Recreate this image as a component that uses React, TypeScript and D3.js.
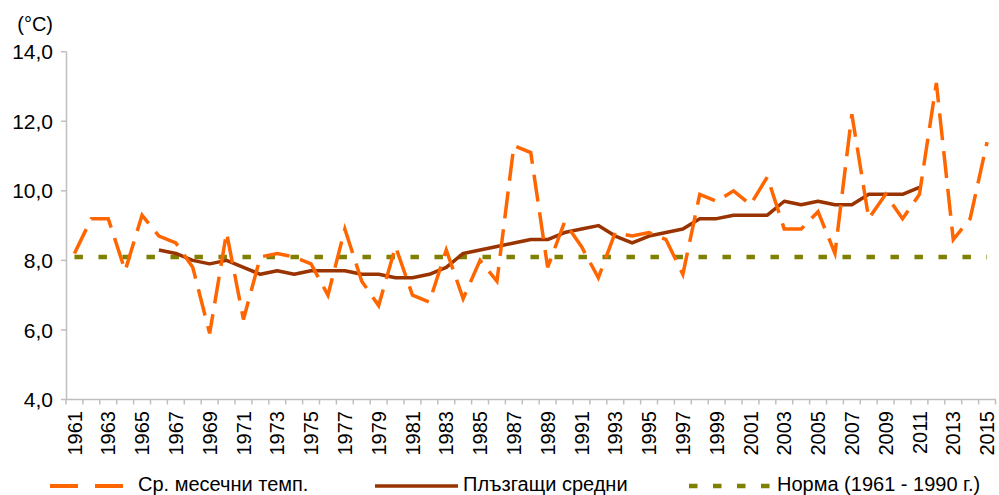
import * as d3 from "d3";

// categories
const years: number[] = d3.range(1961, 2016);
const maYears: number[] = d3.range(1966, 2012);

// mean temperature (°C)
const temps: number[] = [
  8.2, 9.2, 9.2, 7.7, 9.3, 8.7, 8.5, 7.8, 5.9, 8.8,
  6.3, 8.1, 8.2, 8.1, 7.9, 7.0, 8.9, 7.4, 6.7, 8.4,
  7.0, 6.8, 8.3, 6.9, 8.0, 7.4, 11.3, 11.1, 7.8, 9.1,
  8.4, 7.5, 8.8, 8.7, 8.8, 8.6, 7.6, 9.9, 9.7, 10.0,
  9.6, 10.4, 8.9, 8.9, 9.4, 8.2, 12.2, 9.2, 9.9, 9.2,
  9.9, 13.1, 8.6, 9.2, 11.4,
];

// moving averages 1966-2011
const movingAvg: number[] = [
  8.3, 8.2, 8.0, 7.9, 8.0, 7.8, 7.6, 7.7, 7.6, 7.7,
  7.7, 7.7, 7.6, 7.6, 7.5, 7.5, 7.6, 7.8, 8.2, 8.3,
  8.4, 8.5, 8.6, 8.6, 8.8, 8.9, 9.0, 8.7, 8.5, 8.7,
  8.8, 8.9, 9.2, 9.2, 9.3, 9.3, 9.3, 9.7, 9.6, 9.7,
  9.6, 9.6, 9.9, 9.9, 9.9, 10.1,
];

const norm = 8.1;
const yTicks: number[] = [4, 6, 8, 10, 12, 14];
const xLabelYears: number[] = years.filter((y) => (y - 1961) % 2 === 0);

const legendLabels = ["Ср. месечни темп.", "Плъзгащи средни", "Норма (1961 - 1990 г.)"];

const W = 999;
const H = 495;
const font = "'Liberation Sans', Arial, sans-serif";
const axisColor = "#BFBFBF";
const orange = "#FF6600";
const brown = "#993300";
const olive = "#808000";

export default function App() {
  const x = d3.scaleBand<number>().domain(years).range([66, 995.5]).paddingInner(0).paddingOuter(0);
  const y = d3.scaleLinear().domain([4, 14]).range([399.5, 51.7]);
  const cx = (yr: number) => (x(yr) as number) + x.bandwidth() / 2;

  const line = d3
    .line<[number, number]>()
    .x((d) => cx(d[0]))
    .y((d) => y(d[1]));

  const tempPath = line(years.map((yr, i) => [yr, temps[i]]));
  const maPath = line(maYears.map((yr, i) => [yr, movingAvg[i]]));
  const normPath = line(years.map((yr) => [yr, norm]));

  const boundaries = d3.range(years.length + 1).map((i) => 66 + i * x.bandwidth());
  const legendY = 486;
  const legendBase = 491;

  return (
    <svg
      width={W}
      height={H}
      style={{ position: "absolute", left: 0, top: 0, background: "#fff" }}
      fontFamily={font}
    >
      {/* y axis */}
      <line x1={66.5} x2={66.5} y1={y(14)} y2={y(4)} stroke={axisColor} strokeWidth={1.5} />
      {yTicks.map((t) => (
        <g key={t}>
          <line x1={61} x2={66.5} y1={y(t)} y2={y(t)} stroke={axisColor} strokeWidth={1.5} />
          <text x={53} y={y(t)} dy="0.36em" textAnchor="end" fontSize={21} fill="#000">
            {d3.format(".1f")(t).replace(".", ",")}
          </text>
        </g>
      ))}
      <text x={53} y={31} textAnchor="end" fontSize={20} fill="#000">
        (°C)
      </text>

      {/* x axis */}
      <line x1={66} x2={996} y1={y(4)} y2={y(4)} stroke={axisColor} strokeWidth={1.5} />
      {boundaries.map((b, i) => (
        <line key={i} x1={b} x2={b} y1={y(4)} y2={y(4) + 5} stroke={axisColor} strokeWidth={1.5} />
      ))}
      {xLabelYears.map((yr) => (
        <text
          key={yr}
          transform={`translate(${cx(yr)},411) rotate(-90)`}
          dy="0.36em"
          textAnchor="end"
          fontSize={20}
          fill="#000"
        >
          {yr}
        </text>
      ))}

      {/* series */}
      <path d={normPath ?? ""} fill="none" stroke={olive} strokeWidth={4.5} strokeDasharray="8.5 15.5" />
      <path d={maPath ?? ""} fill="none" stroke={brown} strokeWidth={3.5} strokeLinejoin="round" />
      <path d={tempPath ?? ""} fill="none" stroke={orange} strokeWidth={3.5} strokeDasharray="27 11" />

      {/* legend */}
      <line x1={50} x2={123} y1={legendY} y2={legendY} stroke={orange} strokeWidth={4} strokeDasharray="28 17" />
      <text x={138} y={legendBase} fontSize={20} fill="#000">
        {legendLabels[0]}
      </text>
      <line x1={375} x2={458} y1={legendY} y2={legendY} stroke={brown} strokeWidth={3.5} />
      <text x={463} y={legendBase} fontSize={20} fill="#000">
        {legendLabels[1]}
      </text>
      <line x1={689} x2={770} y1={legendY} y2={legendY} stroke={olive} strokeWidth={4.5} strokeDasharray="8.5 15.5" />
      <text x={777} y={legendBase} fontSize={20} fill="#000">
        {legendLabels[2]}
      </text>
    </svg>
  );
}
